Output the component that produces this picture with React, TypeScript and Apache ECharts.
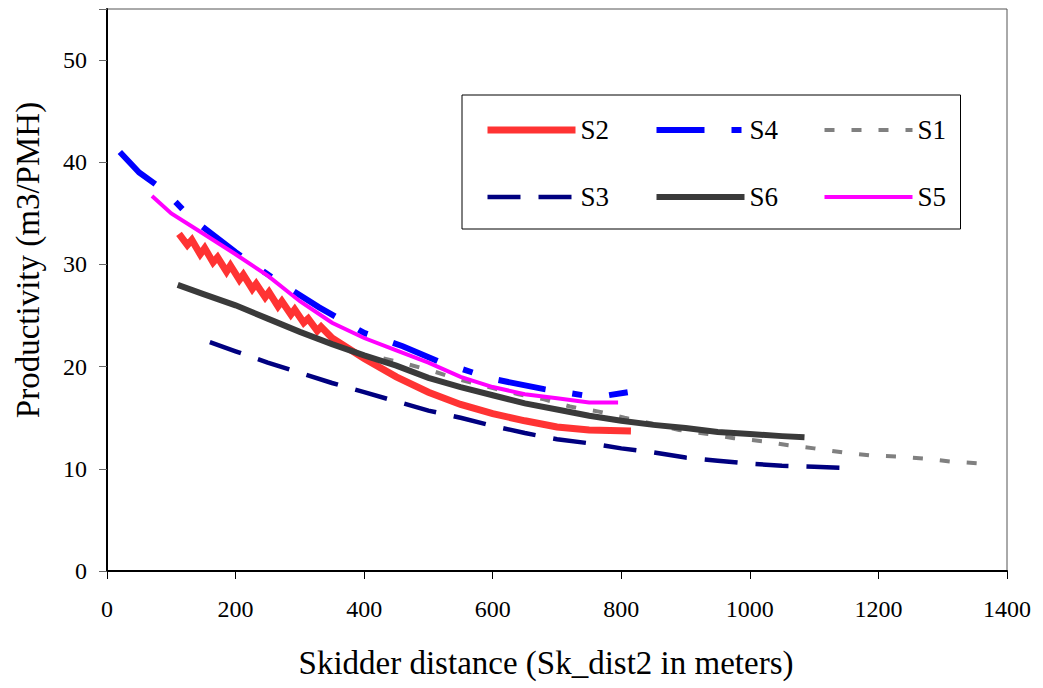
import React, { useEffect, useRef } from "react";
import * as echarts from "echarts";

const xTicks = [0, 200, 400, 600, 800, 1000, 1200, 1400];
const yTicks = [0, 10, 20, 30, 40, 50];

const legendOrder = ["S2", "S4", "S1", "S3", "S6", "S5"];

const s2X = [112, 125, 132, 145, 152, 165, 172, 186, 192, 206, 212, 226, 232, 246, 252, 266, 272, 286, 292, 306, 313, 327, 333, 350, 400, 450, 500, 550, 600, 650, 700, 750, 815];
const s2Y = [33.0, 31.9, 32.4, 31.0, 31.6, 30.2, 30.7, 29.3, 29.9, 28.5, 29.0, 27.6, 28.1, 26.8, 27.3, 25.9, 26.4, 25.1, 25.6, 24.3, 24.7, 23.5, 23.9, 22.8, 20.8, 19.0, 17.5, 16.3, 15.4, 14.7, 14.1, 13.8, 13.7];

const s4X = [20, 50, 90, 130, 200, 260, 330, 400, 460, 520, 600, 680, 740, 780, 810];
const s4Y = [41.0, 39.0, 37.2, 34.6, 31.2, 28.6, 25.8, 23.3, 22.0, 20.4, 18.8, 17.8, 17.2, 17.2, 17.5];

const s1X = [430, 470, 510, 550, 600, 640, 680, 720, 765, 805, 850, 890, 935, 975, 1020, 1060, 1100, 1145, 1190, 1230, 1270, 1315, 1365];
const s1Y = [20.8, 20.2, 19.5, 18.7, 17.9, 17.3, 16.8, 16.1, 15.6, 15.0, 14.4, 13.8, 13.4, 13.0, 12.7, 12.3, 12.0, 11.6, 11.3, 11.2, 11.0, 10.7, 10.5];

const s3X = [160, 200, 250, 300, 350, 400, 450, 500, 550, 600, 650, 700, 750, 800, 850, 900, 950, 1000, 1050, 1100, 1145];
const s3Y = [22.4, 21.5, 20.4, 19.4, 18.4, 17.5, 16.6, 15.7, 15.0, 14.2, 13.5, 12.9, 12.5, 12.0, 11.6, 11.1, 10.8, 10.5, 10.3, 10.2, 10.1];

const s6X = [110, 150, 200, 250, 300, 350, 400, 450, 500, 550, 600, 650, 700, 750, 800, 850, 900, 950, 1000, 1050, 1085];
const s6Y = [28.0, 27.1, 26.0, 24.7, 23.4, 22.2, 21.1, 20.1, 18.9, 18.0, 17.2, 16.4, 15.8, 15.2, 14.7, 14.3, 14.0, 13.6, 13.4, 13.2, 13.1];

const s5X = [70, 100, 150, 200, 250, 300, 350, 400, 450, 500, 550, 600, 650, 700, 750, 795];
const s5Y = [36.7, 35.0, 33.0, 31.0, 28.9, 26.4, 24.3, 22.8, 21.6, 20.4, 19.0, 18.0, 17.3, 16.9, 16.5, 16.5];

const zip = (xs: number[], ys: number[]) => xs.map((x, i) => [x, ys[i]]);

const FONT = "'Liberation Serif', 'Times New Roman', 'DejaVu Serif', serif";

const STYLES: Record<string, { color: string; width: number; type: any }> = {
  S2: { color: "#FF3333", width: 7, type: "solid" },
  S4: { color: "#0000FF", width: 6, type: [48, 27, 10, 27] },
  S1: { color: "#808080", width: 4, type: [10, 17] },
  S3: { color: "#000080", width: 4.5, type: [33, 18] },
  S6: { color: "#3A3A3A", width: 6, type: "solid" },
  S5: { color: "#FF00FF", width: 4, type: "solid" },
};

export default function App() {
  const ref = useRef<HTMLDivElement>(null);
  useEffect(() => {
    if (!ref.current) return;
    const chart = echarts.init(ref.current, undefined, { renderer: "svg" });
    const mk = (name: string, data: number[][]) => {
      const s = STYLES[name];
      return {
        name,
        type: "line",
        data,
        symbol: "none",
        showSymbol: false,
        smooth: false,
        lineStyle: { color: s.color, width: s.width, type: s.type, cap: "butt", join: "miter" },
        itemStyle: { color: s.color },
      };
    };
    const dataMap: Record<string, number[][]> = {
      S2: zip(s2X, s2Y),
      S4: zip(s4X, s4Y),
      S1: zip(s1X, s1Y),
      S3: zip(s3X, s3Y),
      S6: zip(s6X, s6Y),
      S5: zip(s5X, s5Y),
    };
    chart.setOption({
      animation: false,
      textStyle: { fontFamily: FONT },
      grid: {
        left: 107,
        right: 36,
        top: 9,
        bottom: 117,
        show: true,
        borderColor: "#555",
        borderWidth: 1,
      },
      legend: {
        data: legendOrder.map((n) => ({
          name: n,
          lineStyle: { color: STYLES[n].color, width: STYLES[n].width, type: STYLES[n].type, cap: "butt" },
          itemStyle: { opacity: 0 },
        })),
        left: 462,
        top: 95,
        width: 520,
        orient: "horizontal",
        padding: [20, 7, 17, 22],
        itemWidth: 88,
        itemHeight: 30,
        itemGap: 37,
        borderColor: "#000",
        borderWidth: 1,
        itemStyle: { opacity: 0 },
        textStyle: { fontFamily: FONT, fontSize: 27, color: "#000", width: 36, lineHeight: 30 },
      },
      xAxis: {
        type: "value",
        min: 0,
        max: 1400,
        interval: 200,
        name: "Skidder distance (Sk_dist2 in meters)",
        nameLocation: "middle",
        nameGap: 75,
        nameTextStyle: { fontFamily: FONT, fontSize: 33, color: "#000", padding: [0, 22, 0, 0] },
        axisLine: { show: true, lineStyle: { color: "#000", width: 2 } },
        axisTick: { show: true, inside: false, length: 8, lineStyle: { color: "#000", width: 1 } },
        axisLabel: {
          fontFamily: FONT,
          fontSize: 24,
          color: "#000",
          margin: 26,
          formatter: (v: number) => (xTicks.indexOf(v) >= 0 ? String(v) : ""),
        },
        splitLine: { show: false },
      },
      yAxis: {
        type: "value",
        min: 0,
        max: 55,
        interval: 10,
        name: "Productivity (m3/PMH)",
        nameLocation: "middle",
        nameGap: 63,
        nameTextStyle: { fontFamily: FONT, fontSize: 33, color: "#000", padding: [0, 0, 0, 60] },
        axisLine: { show: true, lineStyle: { color: "#000", width: 2 } },
        axisTick: { show: true, inside: false, length: 8, lineStyle: { color: "#666", width: 1 } },
        axisLabel: {
          fontFamily: FONT,
          fontSize: 24,
          color: "#000",
          margin: 20,
          formatter: (v: number) => (yTicks.indexOf(v) >= 0 ? String(v) : ""),
        },
        splitLine: { show: false },
      },
      series: ["S2", "S4", "S1", "S3", "S6", "S5"].map((n) => mk(n, dataMap[n])),
    });
    return () => chart.dispose();
  }, []);
  return (
    <div
      ref={ref}
      style={{ position: "fixed", left: 0, top: 0, width: 1043, height: 688, background: "#fff" }}
    />
  );
}
